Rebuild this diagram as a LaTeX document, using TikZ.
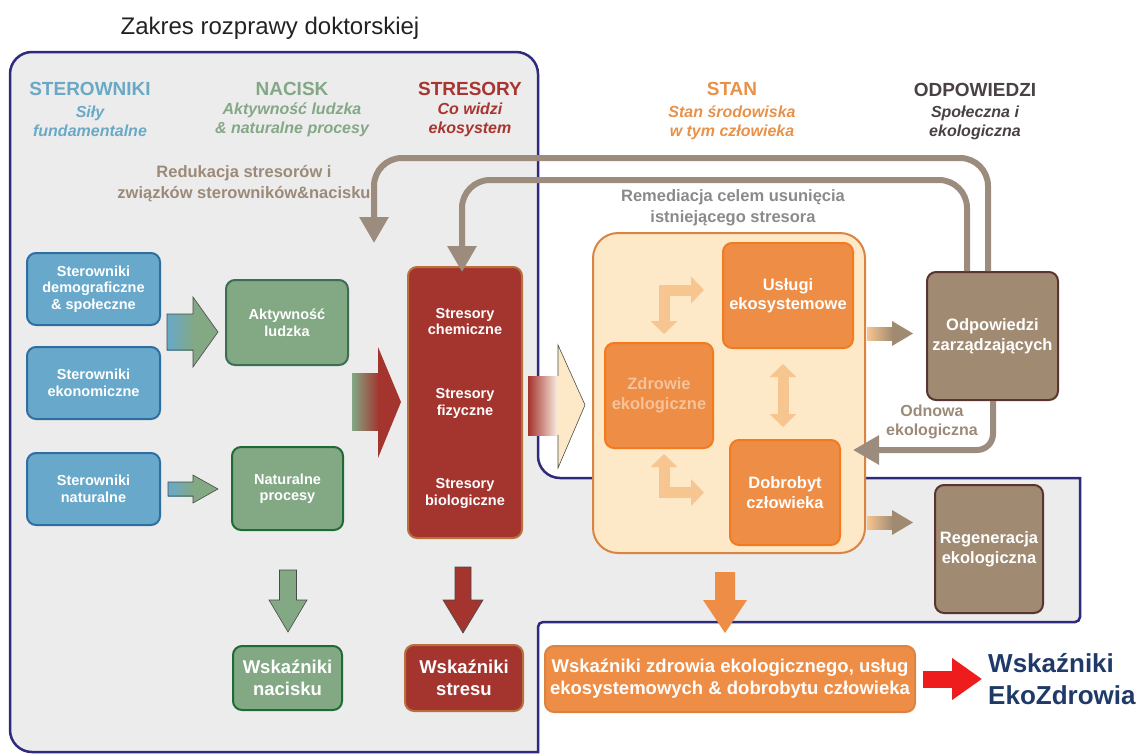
\documentclass[tikz,border=0pt]{standalone}
\usepackage{fontspec}
\setmainfont{Liberation Sans}
\usetikzlibrary{arrows.meta}
\definecolor{navy}{HTML}{2E2B7C}
\definecolor{bggray}{HTML}{ECECEC}
\definecolor{cblue}{HTML}{68A9CB}
\definecolor{cbluedk}{HTML}{2F6EA0}
\definecolor{cgreen}{HTML}{82A884}
\definecolor{cgreendk}{HTML}{3C6E56}
\definecolor{cgreendk2}{HTML}{1F6B37}
\definecolor{cred}{HTML}{A3342E}
\definecolor{credbd}{HTML}{B8703C}
\definecolor{ccream}{HTML}{FDE8C8}
\definecolor{ccreambd}{HTML}{DA8444}
\definecolor{corange}{HTML}{EE8D45}
\definecolor{corangebd}{HTML}{F47A20}
\definecolor{cbrown}{HTML}{A08A72}
\definecolor{cbrownbd}{HTML}{5A3430}
\definecolor{cfb}{HTML}{9B8C7D}
\definecolor{clight}{HTML}{F7C590}
\definecolor{hblue}{HTML}{6AA9C6}
\definecolor{hgreen}{HTML}{84A886}
\definecolor{hred}{HTML}{A8352F}
\definecolor{horange}{HTML}{E89148}
\definecolor{hdark}{HTML}{4A4242}
\definecolor{tbrown}{HTML}{9C8A78}
\definecolor{tgray}{HTML}{8A8A8A}
\definecolor{ekonavy}{HTML}{1F3A68}
\definecolor{cbright}{HTML}{EE1C1C}
\definecolor{zdtext}{HTML}{F6C29A}
\definecolor{ctitle}{HTML}{222222}
\definecolor{outl}{HTML}{4A4A4A}
\begin{document}
\begin{tikzpicture}[x=1pt,y=-1pt,
  box/.style={rounded corners=9pt, line width=2pt, align=center, text=white, inner sep=0pt,
    font=\bfseries\fontsize{14.5}{16.5}\selectfont},
  bluebox/.style={box, fill=cblue, draw=cbluedk, minimum width=133pt, minimum height=72pt},
  greenbox/.style={box, fill=cgreen, draw=cgreendk},
  obox/.style={box, fill=corange, draw=corangebd, font=\bfseries\fontsize{16.5}{19.5}\selectfont},
  brbox/.style={box, fill=cbrown, draw=cbrownbd, font=\bfseries\fontsize{16.5}{20}\selectfont},
  indbox/.style={box, font=\bfseries\fontsize{18.5}{22}\selectfont},
  hdr/.style={font=\bfseries\fontsize{19}{22}\selectfont, inner sep=0pt},
  sub/.style={font=\bfseries\itshape\fontsize{16}{19}\selectfont, align=center, inner sep=0pt},
  lbl/.style={font=\bfseries\fontsize{16.5}{20.5}\selectfont, align=center, inner sep=0pt},
  strtxt/.style={font=\bfseries\fontsize{14.5}{16.5}\selectfont, align=center, text=white, inner sep=0pt},
  fb/.style={draw=cfb, line width=6pt, rounded corners=28pt, -{Triangle[length=26pt,width=28pt]}},
  lo/.style={draw=clight, line width=11pt, line join=miter,
    arrows={Triangle[length=13pt,width=26pt]-Triangle[length=13pt,width=26pt]}},
  thinout/.style={draw=outl, line width=0.6pt}
]
\useasboundingbox (0,0) rectangle (1147,755);

% scope outline
\draw[navy, fill=bggray, line width=2.5pt]
  (10,300) [rounded corners=22pt] -- (10,52) -- (538,52) -- (538,478)
  [sharp corners] -- (1080,478) [rounded corners=5pt] -- (1080,622) -- (538,622)
  [sharp corners] -- (538,752) [rounded corners=22pt] -- (10,752) -- cycle;

\node[font=\fontsize{24}{28}\selectfont, text=ctitle, inner sep=0pt] (title) at (270,28) {Zakres rozprawy doktorskiej};

% headers
\node[hdr, text=hblue] (hS) at (90,89) {STEROWNIKI};
\node[sub, text=hblue] (hS2) at (90,121) {Siły\\fundamentalne};
\node[hdr, text=hgreen] (hN) at (292,89) {NACISK};
\node[sub, text=hgreen] (hN2) at (292,120) {Aktywność ludzka\\\& naturalne procesy};
\node[hdr, text=hred] (hR) at (470,89) {STRESORY};
\node[sub, text=hred] (hR2) at (470,120) {Co widzi\\ekosystem};
\node[hdr, text=horange] (hT) at (732,89) {STAN};
\node[sub, text=horange] (hT2) at (732,123) {Stan środowiska\\w tym człowieka};
\node[hdr, text=hdark] (hO) at (975,90) {ODPOWIEDZI};
\node[sub, text=hdark] (hO2) at (975,123) {Społeczna i\\ekologiczna};

% STAN container
\node[draw=ccreambd, fill=ccream, line width=2pt, rounded corners=25pt,
  minimum width=272pt, minimum height=320pt, inner sep=0pt] (stan) at (729,393) {};
\node[obox, minimum width=130pt, minimum height=105pt] (u) at (788,295.5) {Usługi\\ekosystemowe};
\node[obox, minimum width=108pt, minimum height=105pt, text=zdtext] (z) at (659,395.5) {Zdrowie\\ekologiczne};
\node[obox, minimum width=110pt, minimum height=105pt] (w) at (785,492.5) {Dobrobyt\\człowieka};

% light arrows inside STAN
\draw[lo] ([xshift=5pt,yshift=8pt]z.north) |- ([xshift=-18pt,yshift=5.5pt]u.west);
\draw[lo] ([xshift=5pt,yshift=-5pt]z.south) |- ([xshift=-25pt]w.west);
\draw[lo] ([xshift=-5pt,yshift=-15pt]u.south) -- ([xshift=-2pt,yshift=12pt]w.north);

% left boxes
\node[bluebox] (d1) at (93.5,289) {Sterowniki\\demograficzne\\\& społeczne};
\node[bluebox] (d2) at (93.5,383) {Sterowniki\\ekonomiczne};
\node[bluebox] (d3) at (93.5,489) {Sterowniki\\naturalne};
\node[greenbox, minimum width=122pt, minimum height=85pt] (p1) at (287,322.5) {Aktywność\\ludzka};
\node[greenbox, draw=cgreendk2, minimum width=111pt, minimum height=83pt] (p2) at (287.5,488.5) {Naturalne\\procesy};
\node[box, fill=cred, draw=credbd, minimum width=114pt, minimum height=271pt] (str) at (465,402.5) {};
\node[strtxt] (s1) at (465,321.5) {Stresory\\chemiczne};
\node[strtxt] (s2) at (465,403.5) {Stresory\\fizyczne};
\node[strtxt] (s3) at (465,493.5) {Stresory\\biologiczne};

% response boxes
\node[brbox, minimum width=131pt, minimum height=128pt] (odp) at (992.5,336) {Odpowiedzi\\zarządzających};
\node[brbox, minimum width=108pt, minimum height=128pt] (reg) at (989,549) {Regeneracja\\ekologiczna};

% block arrows: drivers -> pressures
\shade[left color=cblue, right color=cgreen] (167,314) rectangle (194,350);
\fill[cgreen] (193,297) -- (218,332) -- (193,367) -- cycle;
\draw[thinout] (167,314) -- (193,314) -- (193,297) -- (218,332) -- (193,367) -- (193,350) -- (167,350) -- cycle;
\shade[left color=cblue, right color=cgreen] (168,482) rectangle (194,496);
\fill[cgreen] (193,475) -- (218,489) -- (193,503) -- cycle;
\draw[thinout] (168,482) -- (193,482) -- (193,475) -- (218,489) -- (193,503) -- (193,496) -- (168,496) -- cycle;

% pressures -> stressors
\shade[left color=cgreen, right color=cred] (352,373) rectangle (379,430);
\fill[cred] (378,347) -- (401,402) -- (378,458) -- cycle;

% stressors -> state
\shade[left color=cred, right color=ccream!40!white] (528,376) rectangle (559,435);
\fill[ccream] (558,345) -- (585,405) -- (558,468) -- cycle;
\draw[thinout] (558,376) -- (558,345) -- (585,405) -- (558,468) -- (558,435);

% state -> responses
\shade[left color=clight, right color=cbrown] (867,327) rectangle (893,340);
\fill[cbrown] (892,321) -- (913,333.5) -- (892,346) -- cycle;
\shade[left color=clight, right color=cbrown] (867,516) rectangle (893,529);
\fill[cbrown] (892,510) -- (913,522.5) -- (892,535) -- cycle;

% down arrows to indicators
\draw[thinout, fill=cgreen] (279.5,570) -- (296.5,570) -- (296.5,600) -- (307,600) -- (288,632) -- (269,600) -- (279.5,600) -- cycle;
\draw[thinout, fill=cred] (455,567) -- (471,567) -- (471,600) -- (483,600) -- (463,633) -- (443,600) -- (455,600) -- cycle;
\fill[corange] (715,572) -- (735,572) -- (735,600) -- (747,600) -- (725,633) -- (703,600) -- (715,600) -- cycle;

% indicator boxes
\node[indbox, fill=cgreen, draw=cgreendk2, minimum width=109pt, minimum height=64pt] (bn) at (287.5,678) {Wskaźniki\\nacisku};
\node[indbox, fill=cred, draw=credbd, minimum width=118pt, minimum height=66pt] (bs) at (464,678) {Wskaźniki\\stresu};
\node[indbox, fill=corange, draw=ccreambd, minimum width=370pt, minimum height=66pt] (bo) at (730,679) {Wskaźniki zdrowia ekologicznego, usług\\ekosystemowych \& dobrobytu człowieka};
\node[anchor=west, align=left, inner sep=0pt, text=ekonavy, font=\bfseries\fontsize{26}{32}\selectfont] (eko) at (988,679) {Wskaźniki\\EkoZdrowia};
\draw[cbright, line width=17pt, -{Triangle[length=30pt,width=40pt]}] ([xshift=7pt]bo.east) -- ([xshift=-6pt]eko.west);

% feedback arrows
\coordinate (redtip) at (374,243);
\coordinate (odntip) at (853,450);
\draw[fb] ([xshift=-4.5pt]odp.north) |- (374,158) -- (redtip);
\draw[fb] ([xshift=-25.5pt]odp.north) |- (462,180) -- ([xshift=-3pt,yshift=-6pt]str.north);
\draw[fb, rounded corners=16pt] ([xshift=0.5pt]odp.south) |- (odntip);

% labels
\node[lbl, text=tbrown, font=\bfseries\fontsize{16.5}{21}\selectfont] (redl) at (244,184) {Redukacja stresorów i\\związków sterowników\&nacisku};
\node[lbl, text=tgray] (reml) at (733,208) {Remediacja celem usunięcia\\istniejącego stresora};
\node[lbl, text=tbrown, font=\bfseries\fontsize{16}{19}\selectfont] (odnl) at (932,422) {Odnowa\\ekologiczna};
\end{tikzpicture}
\end{document}
